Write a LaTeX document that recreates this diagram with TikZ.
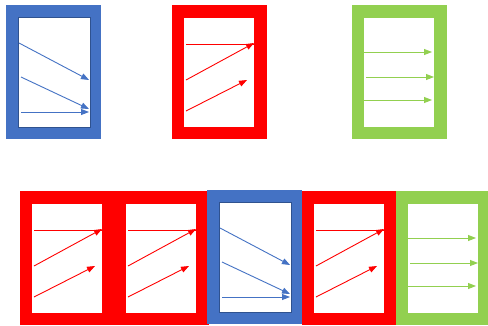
\documentclass[tikz,border=0pt]{standalone}
\usetikzlibrary{arrows.meta}
\definecolor{myblue}{HTML}{4472C4}
\definecolor{myblueD}{HTML}{2F528F}
\definecolor{myred}{HTML}{FF0000}
\definecolor{mygreen}{HTML}{92D050}
\tikzset{
  arr/.style={line width=0.9pt, -{Triangle[length=8pt,width=6pt]}},
  innerbox/.style={fill=white},
}
\newcommand\frameBlue[2]{%
  \begin{scope}[shift={(#1,#2)}]
    \fill[myblue] (0,0) rectangle (95,134);
    \filldraw[innerbox, draw=myblueD, line width=0.8pt] (12,12) rectangle (84,122);
    \coordinate (a1) at (13,38); \coordinate (b1) at (83,75);
    \coordinate (a2) at (15,72); \coordinate (b2) at (83,104);
    \coordinate (a3) at (15,107); \coordinate (b3) at (83,107);
    \draw[arr, myblue] (a1) -- (b1);
    \draw[arr, myblue] (a2) -- (b2);
    \draw[arr, myblue] (a3) -- (b3);
  \end{scope}}
\newcommand\frameRed[2]{%
  \begin{scope}[shift={(#1,#2)}]
    \fill[myred] (0,0) rectangle (95,134);
    \fill[innerbox] (12,13) rectangle (82,122);
    \coordinate (a1) at (14,39); \coordinate (b1) at (82,39);
    \coordinate (a2) at (14,75); \coordinate (b2) at (82,38);
    \coordinate (a3) at (14,106); \coordinate (b3) at (75,75);
    \draw[line width=0.9pt, myred] (a1) -- (b1);
    \draw[arr, myred] (a2) -- (b2);
    \draw[arr, myred] (a3) -- (b3);
  \end{scope}}
\newcommand\frameGreen[2]{%
  \begin{scope}[shift={(#1,#2)}]
    \fill[mygreen] (0,0) rectangle (95,134);
    \fill[innerbox] (12,13) rectangle (82,122);
    \coordinate (a1) at (12,47); \coordinate (b1) at (80,47);
    \coordinate (a2) at (14,72); \coordinate (b2) at (82,72);
    \coordinate (a3) at (12,95); \coordinate (b3) at (80,95);
    \draw[arr, mygreen] (a1) -- (b1);
    \draw[arr, mygreen] (a2) -- (b2);
    \draw[arr, mygreen] (a3) -- (b3);
  \end{scope}}
\begin{document}
\begin{tikzpicture}[x=1pt,y=-1pt]
  \useasboundingbox (0,0) rectangle (488,325);
  \clip (0,0) rectangle (488,325);
  \frameBlue{6}{5}
  \frameRed{172}{5}
  \frameGreen{352}{5}
  \frameRed{20}{191}
  \frameRed{114}{191}
  \frameBlue{207}{190}
  \frameRed{302}{191}
  \frameGreen{396}{191}
\end{tikzpicture}
\end{document}
